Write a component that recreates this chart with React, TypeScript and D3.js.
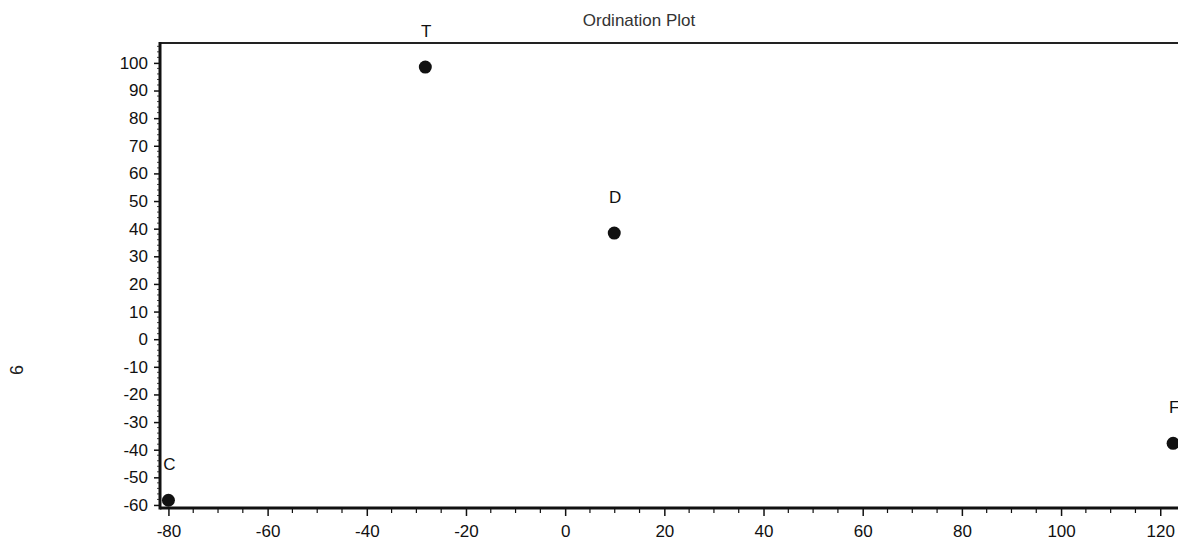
import React, {useEffect, useRef} from 'react';
import * as d3 from "d3";

// ordination scores
const labels = ["T", "D", "F", "C"];
const axis1 = [-28.2, 9.9, 122.6, -80];
const axis2 = [98.5, 38.4, -37.7, -58.3];

const xTicks = [-80, -60, -40, -20, 0, 20, 40, 60, 80, 100, 120];
const yTicks = [100, 90, 80, 70, 60, 50, 40, 30, 20, 10, 0, -10, -20, -30, -40, -50, -60];

const chartTitle = "Ordination Plot";
const yTitle = "6";

export default function App() {
  const width = 1178;
  const height = 542;
  const svgRef = useRef(null);

  function drawPlot(svgRef) {
    const margin = { top: 43, right: -12, bottom: 34, left: 160 };
    const svg = d3.select(svgRef.current);
    svg.selectAll("*").remove();

    const font = "'Liberation Sans', Arial, sans-serif";

    // plot runs past the right edge of the window
    const xScale = d3.scaleLinear()
      .domain([-81.7, 126])
      .range([margin.left, width - margin.right]);

    const yScale = d3.scaleLinear()
      .domain([107.2, -61.1])
      .range([margin.top, height - margin.bottom]);

    const x0 = margin.left;
    const y0 = height - margin.bottom;

    // title
    svg.append("text")
      .attr("x", 639)
      .attr("y", 26)
      .attr("text-anchor", "middle")
      .attr("font-family", font)
      .attr("font-size", 17)
      .attr("fill", "#333")
      .text(chartTitle);

    // y axis title
    svg.append("text")
      .attr("transform", `translate(23,370) rotate(-90)`)
      .attr("text-anchor", "middle")
      .attr("font-family", font)
      .attr("font-size", 18)
      .attr("fill", "#222")
      .text(yTitle);

    // minor ticks
    const xMinor = d3.range(-80, 126, 5).filter(v => !xTicks.includes(v));
    svg.append("g").selectAll("line")
      .data(xMinor)
      .enter()
      .append("line")
      .attr("x1", d => xScale(d))
      .attr("x2", d => xScale(d))
      .attr("y1", y0)
      .attr("y2", y0 + 5)
      .attr("stroke", "#111")
      .attr("stroke-width", 1.2);

    const yMinor = d3.range(-60, 107, 2).filter(v => !yTicks.includes(v));
    svg.append("g").selectAll("line")
      .data(yMinor)
      .enter()
      .append("line")
      .attr("x1", x0 - 3)
      .attr("x2", x0)
      .attr("y1", d => yScale(d))
      .attr("y2", d => yScale(d))
      .attr("stroke", "#444")
      .attr("stroke-width", 1);

    // x axis
    let xAxis = d3.axisBottom(xScale)
      .tickValues(xTicks)
      .tickSize(8)
      .tickPadding(9)
      .tickFormat(d => `${d}`);
    let xg = svg.append("g")
      .attr("transform", `translate(0,${y0})`)
      .call(xAxis);
    xg.select(".domain").remove();
    xg.selectAll(".tick line").attr("stroke", "#111").attr("stroke-width", 1.5);
    xg.selectAll(".tick text")
      .attr("font-family", font)
      .attr("font-size", 17)
      .attr("fill", "#111");

    // y axis
    let yAxis = d3.axisLeft(yScale)
      .tickValues(yTicks)
      .tickSize(6)
      .tickPadding(6)
      .tickFormat(d => `${d}`);
    let yg = svg.append("g")
      .attr("transform", `translate(${x0},0)`)
      .call(yAxis);
    yg.select(".domain").remove();
    yg.selectAll(".tick line").attr("stroke", "#111").attr("stroke-width", 1.5);
    yg.selectAll(".tick text")
      .attr("font-family", font)
      .attr("font-size", 17)
      .attr("fill", "#111");

    // frame
    svg.append("line")
      .attr("x1", x0).attr("x2", width)
      .attr("y1", margin.top).attr("y2", margin.top)
      .attr("stroke", "#222").attr("stroke-width", 2);
    svg.append("line")
      .attr("x1", x0).attr("x2", width)
      .attr("y1", y0).attr("y2", y0)
      .attr("stroke", "#111").attr("stroke-width", 3);
    svg.append("line")
      .attr("x1", x0).attr("x2", x0)
      .attr("y1", margin.top - 1).attr("y2", y0 + 1.5)
      .attr("stroke", "#111").attr("stroke-width", 3);

    // points
    const points = labels.map((name, i) => ({ name, x: axis1[i], y: axis2[i] }));

    svg.append("g").selectAll("circle")
      .data(points)
      .enter()
      .append("circle")
      .attr("cx", d => xScale(d.x))
      .attr("cy", d => yScale(d.y))
      .attr("r", 6.5)
      .attr("fill", "#111");

    svg.append("g").selectAll("text")
      .data(points)
      .enter()
      .append("text")
      .attr("x", d => xScale(d.x) + 1)
      .attr("y", d => yScale(d.y) - 30)
      .attr("text-anchor", "middle")
      .attr("font-family", font)
      .attr("font-size", 17)
      .attr("fill", "#111")
      .text(d => d.name);
  }

  useEffect(() => {
    drawPlot(svgRef);
  }, [svgRef]);

  return (
    <div style={{position: "absolute", left: 0, top: 0}}>
      <svg ref={svgRef} width={width} height={height} style={{display: "block", background: "white"}}/>
    </div>
  )
}
